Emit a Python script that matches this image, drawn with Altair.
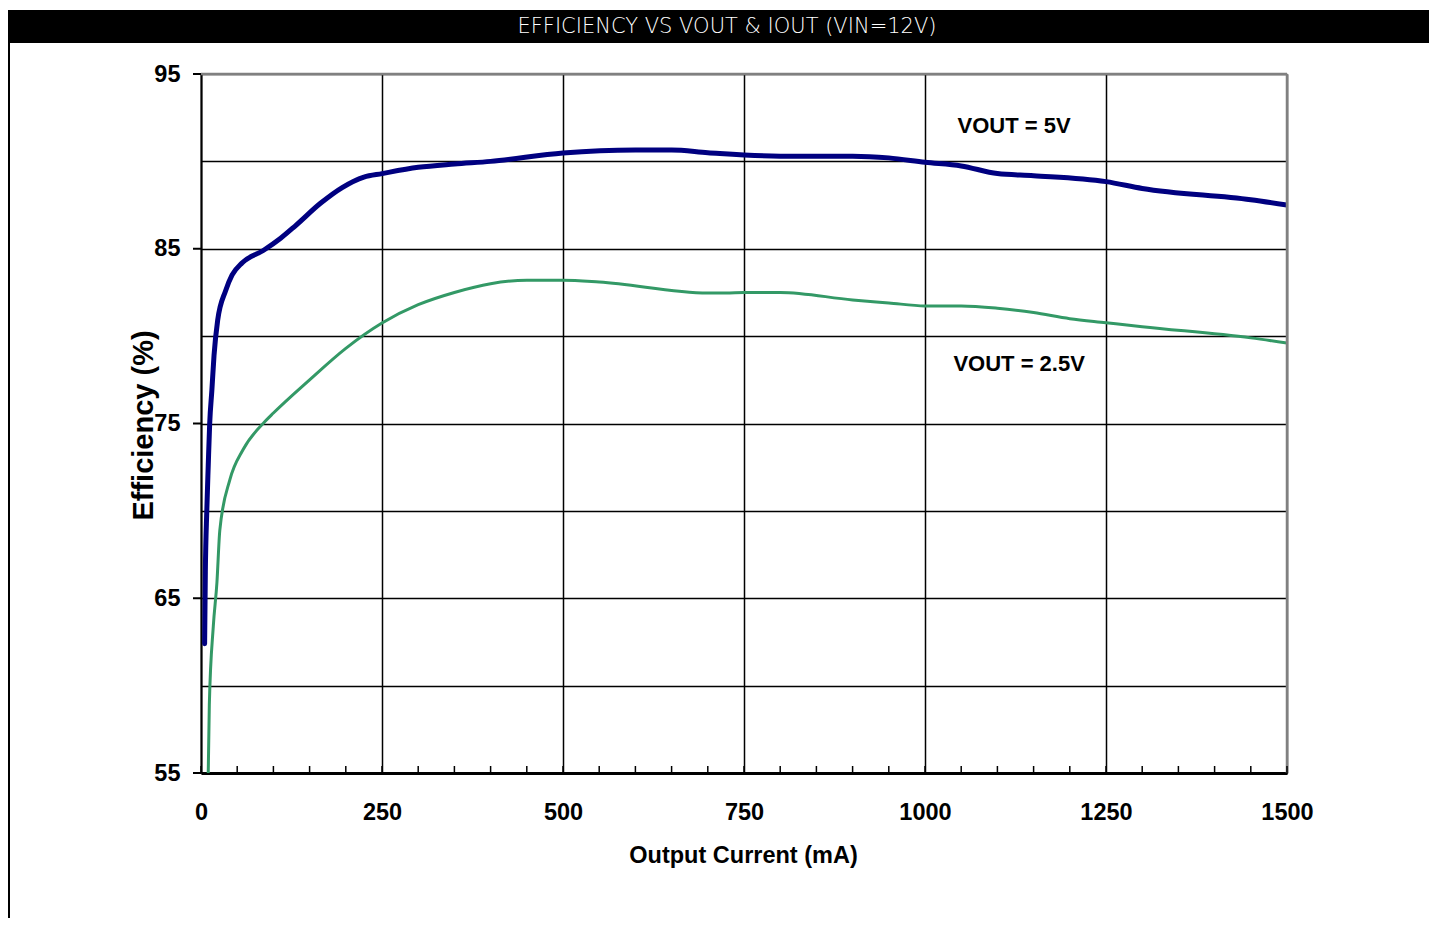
import altair as alt
import pandas as pd

TITLE = "EFFICIENCY VS VOUT & IOUT (VIN=12V)"
X_TITLE = "Output Current (mA)"
Y_TITLE = "Efficiency (%)"

# VOUT = 5V curve
I_5V = [5, 6, 8, 10, 12, 15, 18, 23, 34, 43, 57, 86, 110, 130, 165, 195, 225,
        250, 300, 350, 400, 500, 600, 650, 700, 800, 900, 950, 1000, 1050,
        1100, 1150, 1250, 1300, 1450, 1500]
EFF_5V = [62.4, 66.5, 70.0, 72.6, 75.0, 76.9, 78.9, 80.9, 82.6, 83.5, 84.2,
          84.9, 85.6, 86.3, 87.6, 88.5, 89.1, 89.3, 89.66, 89.85, 90.0, 90.48,
          90.65, 90.65, 90.5, 90.3, 90.3, 90.2, 89.95, 89.74, 89.3, 89.18,
          88.84, 88.45, 87.8, 87.5]

# VOUT = 2.5V curve
I_2V5 = [10, 11.5, 17, 22, 26, 40, 58, 88, 100, 150, 200, 250, 300, 350, 400,
         450, 500, 550, 700, 725, 750, 800, 900, 950, 1000, 1050, 1100, 1150,
         1200, 1250, 1300, 1450, 1500]
EFF_2V5 = [55.0, 58.9, 63.4, 65.9, 68.9, 71.8, 73.5, 75.1, 75.6, 77.5, 79.3,
           80.75, 81.8, 82.5, 83.0, 83.2, 83.2, 83.1, 82.47, 82.47, 82.5, 82.5,
           82.07, 81.9, 81.73, 81.73, 81.6, 81.35, 81.0, 80.77, 80.54, 79.9,
           79.6]

X_LABELS = [0, 250, 500, 750, 1000, 1250, 1500]
X_MINOR = list(range(0, 1501, 50))
Y_GRID = [55, 60, 65, 70, 75, 80, 85, 90, 95]
Y_LABELS = [55, 65, 75, 85, 95]

ANN_TEXT = ["VOUT = 5V", "VOUT = 2.5V"]
ANN_X = [1123, 1130]
ANN_Y = [92.0, 78.4]

W, H = 1086, 699
PAD_L, PAD_T, PAD_R, PAD_B = 193, 66, 142, 145
FONT = "Liberation Sans"

xs = alt.Scale(domain=[0, 1500], nice=False, zero=False)
ys = alt.Scale(domain=[55, 95], nice=False, zero=False)

x_axis = alt.Axis(
    values=X_LABELS, format="d", grid=True, gridColor="black", gridWidth=1.5,
    ticks=False, tickSize=0, domainColor="black", domainWidth=3,
    labelFont=FONT, labelFontSize=23.5, labelFontWeight="bold",
    labelColor="black", labelPadding=46, labelBaseline="alphabetic",
    labelFlush=False, labelOverlap=False,
    title=X_TITLE, titleFont=FONT, titleFontSize=23.5, titleFontWeight="bold",
    titleColor="black", titleX=542, titleY=89, titleBaseline="alphabetic",
)
y_axis = alt.Axis(
    values=Y_GRID, format="d",
    labelExpr="datum.value % 10 == 5 ? datum.label : ''",
    grid=True, gridColor="black", gridWidth=1.5,
    ticks=False, tickSize=0, domainColor="black", domainWidth=2,
    labelFont=FONT, labelFontSize=23.5, labelFontWeight="bold",
    labelColor="black", labelPadding=21, labelBaseline="middle",
    labelFlush=False, labelOverlap=False,
    title=Y_TITLE, titleFont=FONT, titleFontSize=29, titleFontWeight="bold",
    titleColor="black", titleX=-49, titleY=351, titleAngle=270,
    titleAlign="center", titleBaseline="alphabetic",
)


def X(field):
    return alt.X(field, scale=xs, axis=x_axis)


def Y(field):
    return alt.Y(field, scale=ys, axis=y_axis)


df5 = pd.DataFrame({"I": I_5V, "E": EFF_5V})
df25 = pd.DataFrame({"I": I_2V5, "E": EFF_2V5})

blue = alt.Chart(df5).mark_line(
    color="#000080", strokeWidth=5, interpolate="monotone", clip=True,
    strokeCap="round"
).encode(x=X("I:Q"), y=Y("E:Q"))
green = alt.Chart(df25).mark_line(
    color="#339966", strokeWidth=3, interpolate="monotone", clip=True
).encode(x=X("I:Q"), y=Y("E:Q"))

top_border = alt.Chart(pd.DataFrame({"E": [95]})).mark_rule(
    color="#808080", strokeWidth=2.5).encode(y=Y("E:Q"))
right_border = alt.Chart(pd.DataFrame({"I": [1500]})).mark_rule(
    color="#808080", strokeWidth=2.5).encode(x=X("I:Q"))

x_minor = alt.Chart(pd.DataFrame({"I": X_MINOR})).mark_rule(
    color="black", strokeWidth=1.5
).encode(x=X("I:Q"), y=alt.value(H - 7), y2=alt.value(H))
y_major = alt.Chart(pd.DataFrame({"E": Y_LABELS})).mark_rule(
    color="black", strokeWidth=2
).encode(y=Y("E:Q"), x=alt.value(-8), x2=alt.value(0))

ann = alt.Chart(pd.DataFrame({"I": ANN_X, "E": ANN_Y, "t": ANN_TEXT})).mark_text(
    font=FONT, fontSize=22, fontWeight="bold", color="black",
    align="center", baseline="middle"
).encode(x=X("I:Q"), y=Y("E:Q"), text="t:N")

one = pd.DataFrame({"a": [0]})
bar = alt.Chart(one).mark_rect(color="black").encode(
    x=alt.value(-PAD_L), x2=alt.value(W + PAD_R),
    y=alt.value(-64), y2=alt.value(-31),
)
title_txt = alt.Chart(pd.DataFrame({"t": [TITLE]})).mark_text(
    font="DejaVu Sans", fontSize=21, fontWeight=200, color="white",
    align="center", baseline="middle"
).encode(x=alt.value(526), y=alt.value(-47), text="t:N")
left_border = alt.Chart(one).mark_rule(color="black", strokeWidth=2).encode(
    x=alt.value(-192), y=alt.value(-31), y2=alt.value(H + PAD_B),
)

chart = alt.layer(
    blue, green, top_border, right_border, x_minor, y_major, ann,
    bar, title_txt, left_border
).properties(
    width=W, height=H,
    autosize=alt.AutoSizeParams(type="none"),
    padding={"left": PAD_L, "top": PAD_T, "right": PAD_R, "bottom": PAD_B},
    background="white",
).configure_view(strokeWidth=0)

chart.save("out.html", embed_options={"renderer": "svg", "actions": False})
